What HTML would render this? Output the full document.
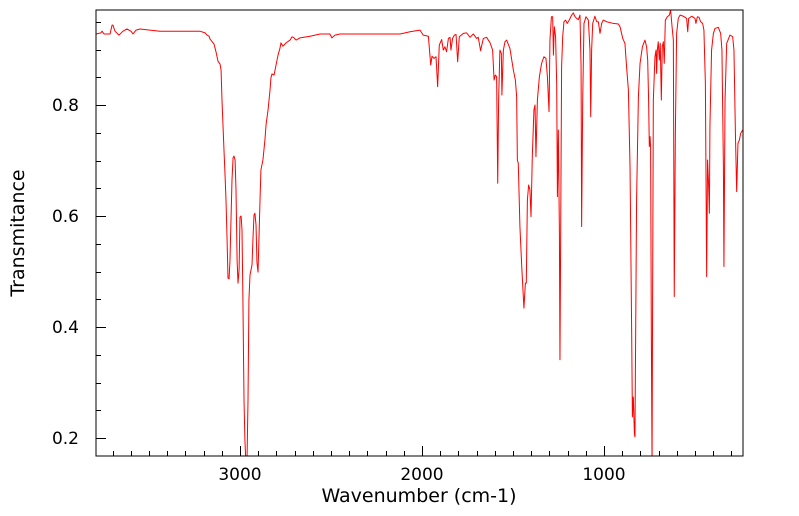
<!DOCTYPE html>
<html><head><meta charset="utf-8">
<style>
html,body{margin:0;padding:0;background:#fff;}
svg{display:block;font-family:"DejaVu Sans","Liberation Sans",sans-serif;}
</style></head>
<body>
<svg id="chart" width="799" height="516" viewBox="0 0 799 516" xmlns="http://www.w3.org/2000/svg">
<defs><clipPath id="plotclip"><rect x="96" y="10" width="647" height="446"/></clipPath></defs>
<rect x="0" y="0" width="799" height="516" fill="#fff"/>
<g id="ticks"></g>
<g id="labels"></g>
<g clip-path="url(#plotclip)"><path id="spec" fill="none" stroke="#ff0000" stroke-width="1" stroke-linejoin="round"/></g>
<rect x="96" y="10" width="647" height="446" fill="none" stroke="#000" stroke-width="1"/>
<text x="419" y="502" font-size="19" text-anchor="middle">Wavenumber (cm-1)</text>
<text x="24" y="233" font-size="19" text-anchor="middle" transform="rotate(-90 24 233)">Transmitance</text>
</svg>
<script>
const wavenumbers = [3791,3764,3758,3747,3714,3703,3698,3687,3665,3643,3621,3599,3588,3571,3549,3495,3440,3330,3275,3220,3192,3181,3170,3165,3143,3132,3121,3110,3104,3099,3088,3082,3077,3071,3066,3060,3055,3044,3038,3033,3027,3022,3016,3011,3005,3000,2994,2989,2984,2978,2973,2967,2962,2956,2951,2945,2934,2929,2923,2918,2912,2907,2901,2896,2890,2885,2874,2863,2857,2846,2835,2830,2824,2813,2802,2791,2780,2775,2764,2747,2725,2714,2703,2692,2670,2615,2560,2506,2495,2478,2451,2121,2093,
2066,2011,1993,1965,1952,1945,1934,1923,1914,1905,1892,1883,1874,1865,1855,1846,1841,1832,1822,1813,1804,1795,1773,1755,1736,1718,1700,1691,1678,1663,1645,1626,1612,1604,1597,1590,1584,1579,1572,1564,1561,1553,1544,1535,1517,1498,1487,1480,1476,1471,1462,1452,1440,1432,1427,1421,1414,1407,1401,1394,1385,1379,1374,1366,1355,1343,1330,1319,1311,1302,1297,1289,1282,1278,1273,1266,1260,1256,1251,1245,1242,1238,1233,1227,1220,1211,1202,1191,1178,1169,1159,1150,1141,1132,1126,1123,1117,1110,1099,1086,1077,1073,1068,1062,1050,1040,1031,1022,1013,1004,985,949,921,912,897,885,876,866,857,848,844,839,833,830,821,811,802,789,775,766,760,755,751,747,744,740,736,733,729,720,714,711,707,702,696,691,685,680,674,669,663,652,641,634,626,619,614,608,601,592,582,564,546,540,535,518,500,495,487,478,469,458,451,443,440,436,431,425,421,418,409,399,390,372,359,352,344,341,335,326,308,293,286,278,271,264,256,249,238];
const transmittance = [.928,.930,.933,.928,.928,.944,.944,.933,.926,.933,.937,.933,.928,.935,.937,.935,.933,.933,.933,.933,.930,.926,.924,.919,.910,.896,.879,.874,.863,.809,.719,.672,.629,.557,.488,.487,.521,.665,.705,.708,.701,.647,.521,.479,.503,.598,.600,.575,.449,.269,.196,.15,.15,.269,.449,.494,.512,.557,.602,.605,.584,.517,.499,.557,.629,.683,.701,.737,.764,.791,.827,.849,.856,.854,.872,.890,.903,.912,.906,.912,.917,.923,.921,.917,.921,.924,.928,.928,.921,.926,.928,.928,.930,
.932,.935,.926,.924,.872,.888,.884,.887,.833,.908,.918,.899,.905,.896,.920,.922,.899,.920,.926,.927,.878,.923,.929,.930,.922,.928,.920,.922,.898,.920,.922,.912,.899,.845,.854,.851,.659,.809,.899,.893,.818,.899,.914,.917,.902,.863,.845,.815,.701,.695,.581,.509,.434,.479,.479,.629,.656,.647,.599,.707,.791,.800,.707,.809,.851,.875,.887,.884,.851,.788,.917,.959,.959,.890,.941,.923,.839,.635,.755,.569,.341,.569,.869,.923,.950,.953,.947,.953,.962,.966,.959,.956,.954,.962,.869,.581,.809,.947,.959,.953,.899,.779,.899,.947,.960,.950,.950,.929,.947,.953,.950,.947,.946,.941,.920,.911,.869,.827,.689,.389,.238,.274,.208,.202,.629,.815,.875,.905,.917,.905,.881,.809,.725,.743,.725,.389,.15,.449,.809,.887,.899,.857,.899,.914,.881,.911,.809,.905,.914,.875,.953,.959,.962,.971,.941,.917,.455,.749,.929,.956,.962,.960,.956,.932,.956,.960,.956,.947,.959,.958,.950,.947,.935,.839,.689,.491,.701,.653,.605,.761,.899,.929,.938,.940,.929,.899,.689,.509,.809,.911,.926,.923,.899,.749,.644,.731,.737,.749,.755];
const xTickLabels = [3000,2000,1000];
const yTickLabels = [0.2,0.4,0.6,0.8];

const X0=96,X1=743,Y0=10,Y1=456;
const WN_L=3791.2,WN_R=236.3,T_B=0.1676,T_T=0.9712;
function sx(w){return X0+(WN_L-w)/(WN_L-WN_R)*(X1-X0);}
function sy(t){return Y1-(t-T_B)/(T_T-T_B)*(Y1-Y0);}
const NS='http://www.w3.org/2000/svg';
let d='';
for(let i=0;i<wavenumbers.length;i++){d+=(i?'L':'M')+sx(wavenumbers[i]).toFixed(2)+' '+sy(transmittance[i]).toFixed(2);}
document.getElementById('spec').setAttribute('d',d);
const tg=document.getElementById('ticks'),lg=document.getElementById('labels');
function line(x1,y1,x2,y2,name){const l=document.createElementNS(NS,'line');
l.setAttribute('x1',x1);l.setAttribute('y1',y1);l.setAttribute('x2',x2);l.setAttribute('y2',y2);
l.setAttribute('stroke','#000');l.setAttribute('stroke-width','1');


tg.appendChild(l);}
for(let w=300;w<=3700;w+=100){const x=Math.round(sx(w))+0.5;const major=(w%1000===0);line(x,Y1,x,Y1-(major?10:5),major?'x-major-tick':'x-minor-tick');}
for(let k=4;k<=19;k++){const t=k*0.05;const y=Math.round(sy(t))+0.5;const major=(k%4===0);line(X0,y,X0+(major?10:5),y,major?'y-major-tick':'y-minor-tick');}
xTickLabels.forEach(v=>{const t=document.createElementNS(NS,'text');t.setAttribute('x',sx(v));t.setAttribute('y',480);t.setAttribute('font-size','17');t.setAttribute('text-anchor','middle');t.textContent=String(v);


lg.appendChild(t);});
yTickLabels.forEach(v=>{const t=document.createElementNS(NS,'text');t.setAttribute('x',79);t.setAttribute('y',sy(v)+6);t.setAttribute('font-size','17');t.setAttribute('text-anchor','end');t.textContent=v.toFixed(1);


lg.appendChild(t);});
</script>
</body></html>
